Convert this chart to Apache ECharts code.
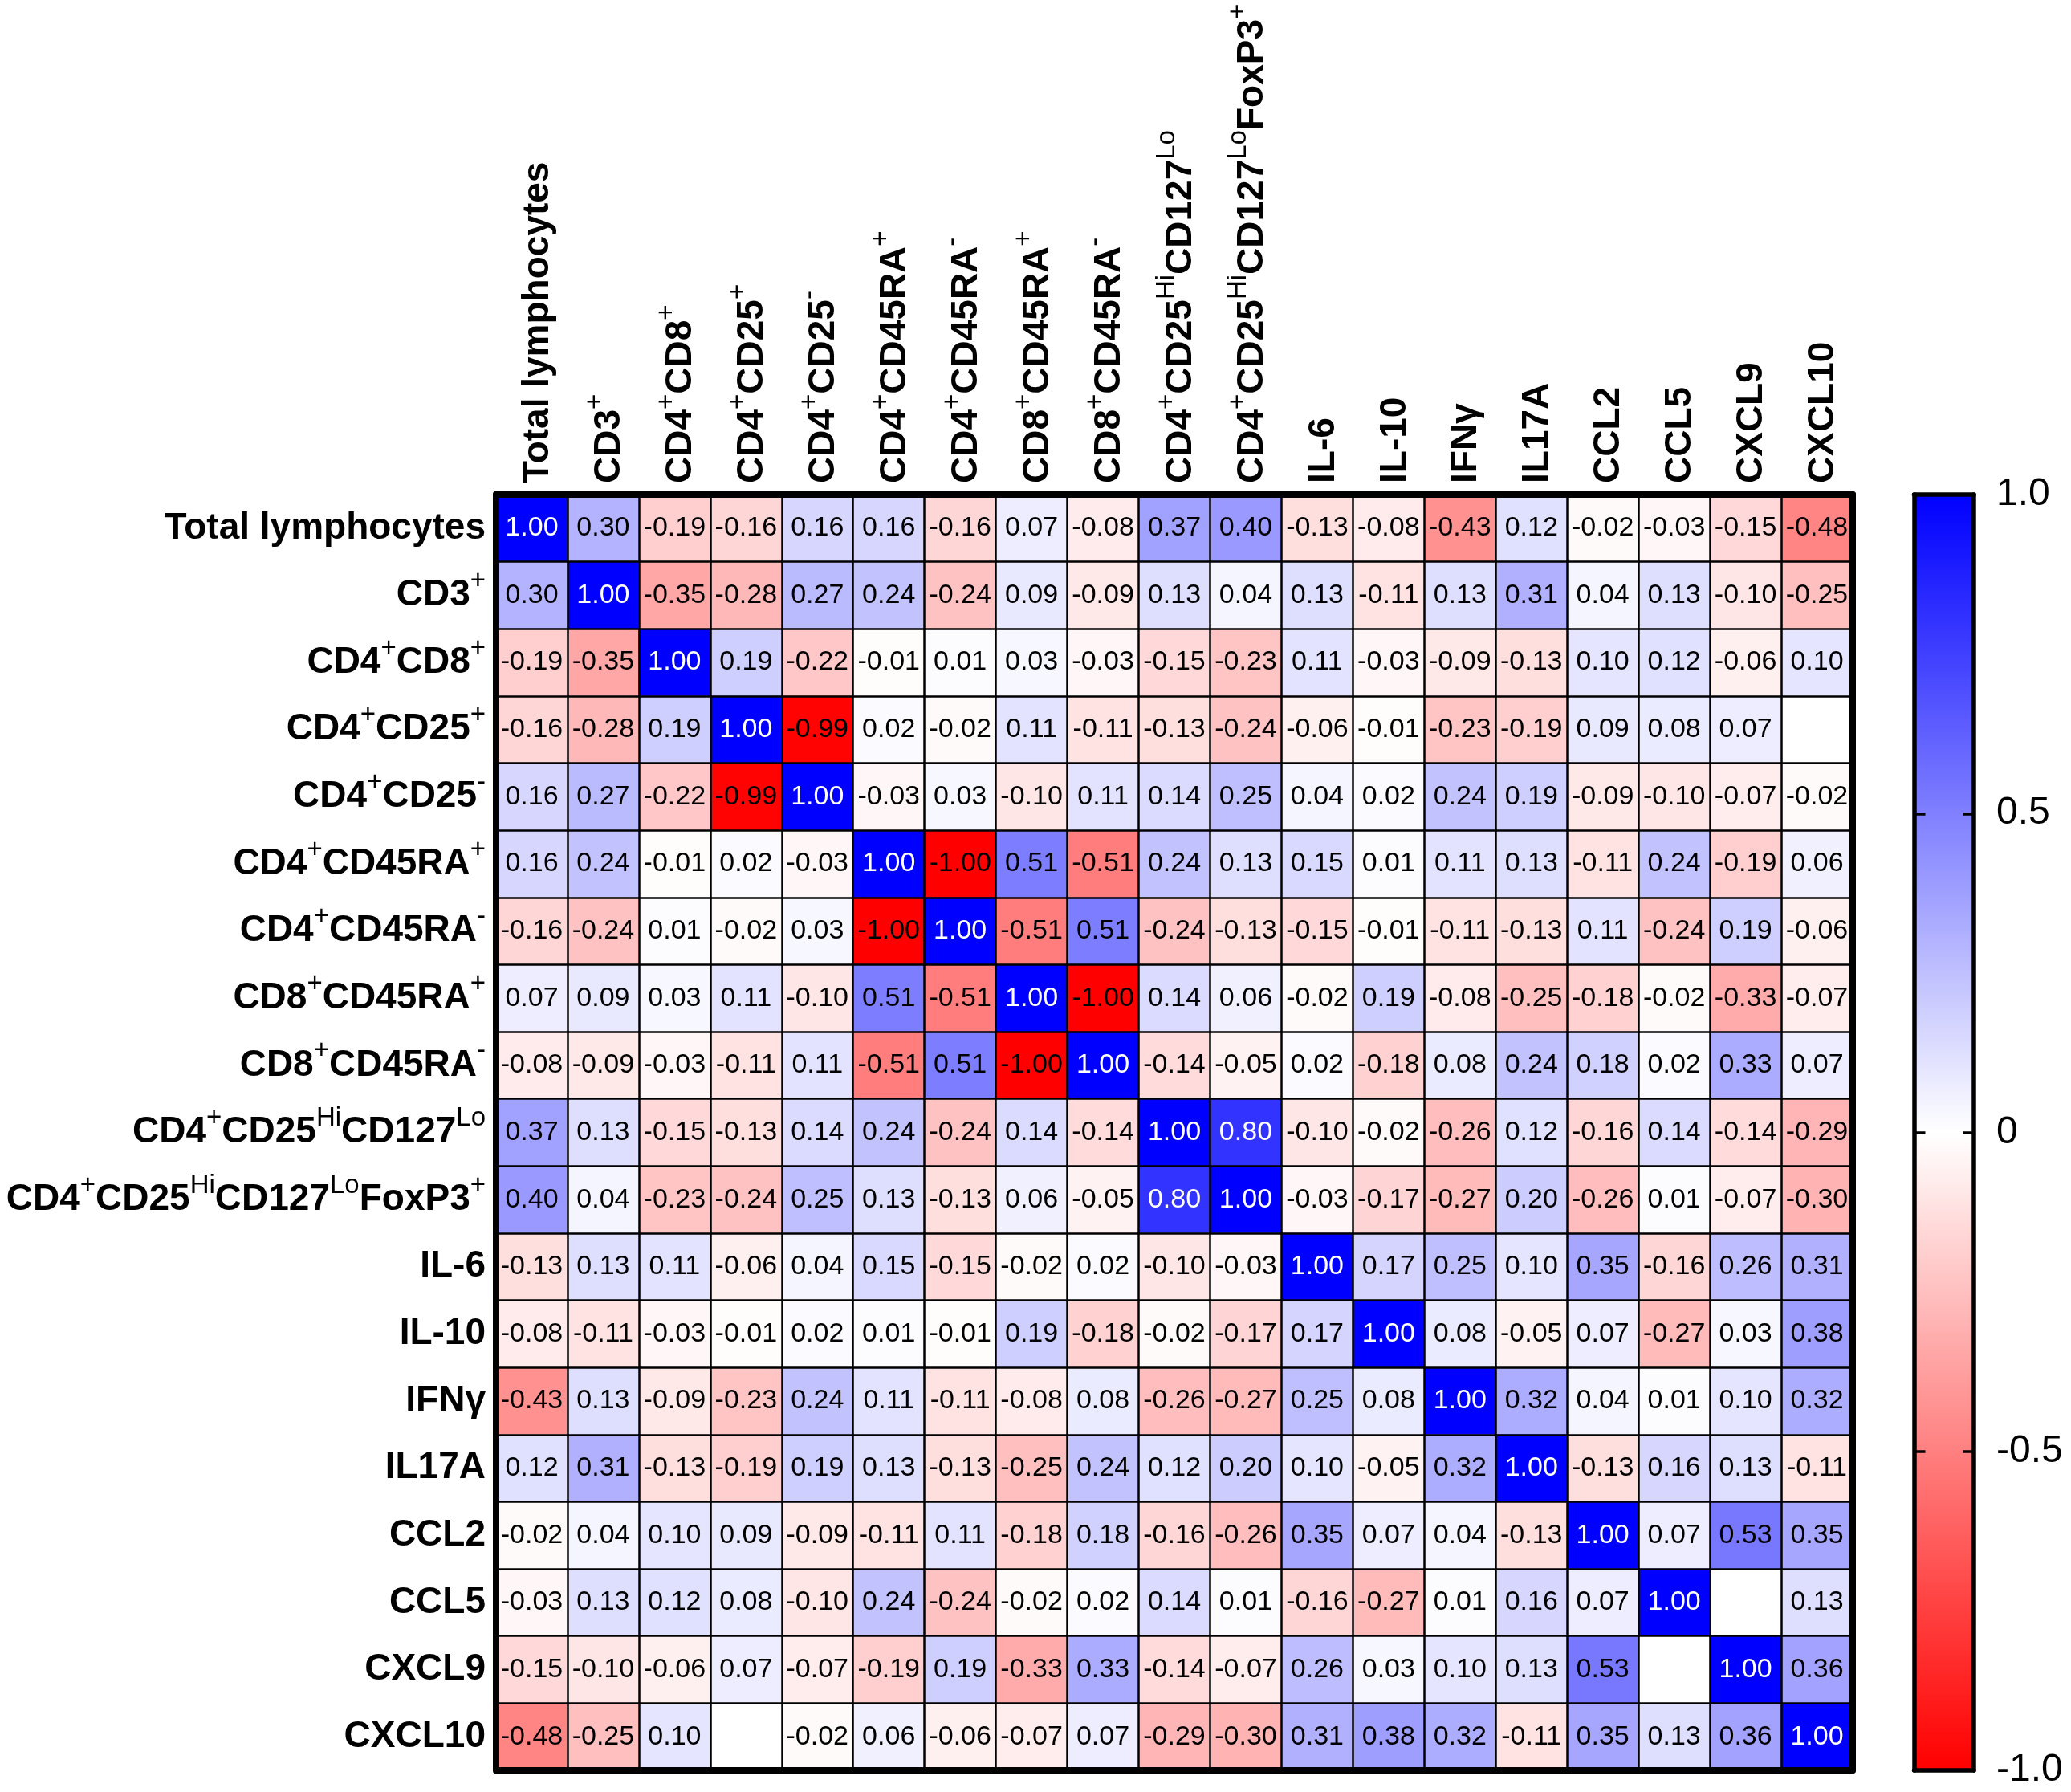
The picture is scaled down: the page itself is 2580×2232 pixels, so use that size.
<!DOCTYPE html>
<html>
<head>
<meta charset="utf-8">
<script src="https://cdn.jsdelivr.net/npm/echarts@6/dist/echarts.min.js"></script>
<style>
html,body{margin:0;padding:0;background:#fff;}
#chart{width:2580px;height:2232px;}
</style>
</head>
<body>
<div id="chart"></div>
<script>
// Category names; text inside {...} is a superscript
const categories = [
  'Total lymphocytes', 'CD3{+}', 'CD4{+}CD8{+}', 'CD4{+}CD25{+}', 'CD4{+}CD25{-}',
  'CD4{+}CD45RA{+}', 'CD4{+}CD45RA{-}', 'CD8{+}CD45RA{+}', 'CD8{+}CD45RA{-}',
  'CD4{+}CD25{Hi}CD127{Lo}', 'CD4{+}CD25{Hi}CD127{Lo}FoxP3{+}',
  'IL-6', 'IL-10', 'IFNγ', 'IL17A', 'CCL2', 'CCL5', 'CXCL9', 'CXCL10'
];

// Correlation rows (null = blank cell)
const rowTotalLymphocytes = [1.00, 0.30, -0.19, -0.16, 0.16, 0.16, -0.16, 0.07, -0.08, 0.37, 0.40, -0.13, -0.08, -0.43, 0.12, -0.02, -0.03, -0.15, -0.48];
const rowCD3 = [0.30, 1.00, -0.35, -0.28, 0.27, 0.24, -0.24, 0.09, -0.09, 0.13, 0.04, 0.13, -0.11, 0.13, 0.31, 0.04, 0.13, -0.10, -0.25];
const rowCD4CD8 = [-0.19, -0.35, 1.00, 0.19, -0.22, -0.01, 0.01, 0.03, -0.03, -0.15, -0.23, 0.11, -0.03, -0.09, -0.13, 0.10, 0.12, -0.06, 0.10];
const rowCD4CD25pos = [-0.16, -0.28, 0.19, 1.00, -0.99, 0.02, -0.02, 0.11, -0.11, -0.13, -0.24, -0.06, -0.01, -0.23, -0.19, 0.09, 0.08, 0.07, null];
const rowCD4CD25neg = [0.16, 0.27, -0.22, -0.99, 1.00, -0.03, 0.03, -0.10, 0.11, 0.14, 0.25, 0.04, 0.02, 0.24, 0.19, -0.09, -0.10, -0.07, -0.02];
const rowCD4CD45RApos = [0.16, 0.24, -0.01, 0.02, -0.03, 1.00, -1.00, 0.51, -0.51, 0.24, 0.13, 0.15, 0.01, 0.11, 0.13, -0.11, 0.24, -0.19, 0.06];
const rowCD4CD45RAneg = [-0.16, -0.24, 0.01, -0.02, 0.03, -1.00, 1.00, -0.51, 0.51, -0.24, -0.13, -0.15, -0.01, -0.11, -0.13, 0.11, -0.24, 0.19, -0.06];
const rowCD8CD45RApos = [0.07, 0.09, 0.03, 0.11, -0.10, 0.51, -0.51, 1.00, -1.00, 0.14, 0.06, -0.02, 0.19, -0.08, -0.25, -0.18, -0.02, -0.33, -0.07];
const rowCD8CD45RAneg = [-0.08, -0.09, -0.03, -0.11, 0.11, -0.51, 0.51, -1.00, 1.00, -0.14, -0.05, 0.02, -0.18, 0.08, 0.24, 0.18, 0.02, 0.33, 0.07];
const rowTreg = [0.37, 0.13, -0.15, -0.13, 0.14, 0.24, -0.24, 0.14, -0.14, 1.00, 0.80, -0.10, -0.02, -0.26, 0.12, -0.16, 0.14, -0.14, -0.29];
const rowTregFoxP3 = [0.40, 0.04, -0.23, -0.24, 0.25, 0.13, -0.13, 0.06, -0.05, 0.80, 1.00, -0.03, -0.17, -0.27, 0.20, -0.26, 0.01, -0.07, -0.30];
const rowIL6 = [-0.13, 0.13, 0.11, -0.06, 0.04, 0.15, -0.15, -0.02, 0.02, -0.10, -0.03, 1.00, 0.17, 0.25, 0.10, 0.35, -0.16, 0.26, 0.31];
const rowIL10 = [-0.08, -0.11, -0.03, -0.01, 0.02, 0.01, -0.01, 0.19, -0.18, -0.02, -0.17, 0.17, 1.00, 0.08, -0.05, 0.07, -0.27, 0.03, 0.38];
const rowIFNg = [-0.43, 0.13, -0.09, -0.23, 0.24, 0.11, -0.11, -0.08, 0.08, -0.26, -0.27, 0.25, 0.08, 1.00, 0.32, 0.04, 0.01, 0.10, 0.32];
const rowIL17A = [0.12, 0.31, -0.13, -0.19, 0.19, 0.13, -0.13, -0.25, 0.24, 0.12, 0.20, 0.10, -0.05, 0.32, 1.00, -0.13, 0.16, 0.13, -0.11];
const rowCCL2 = [-0.02, 0.04, 0.10, 0.09, -0.09, -0.11, 0.11, -0.18, 0.18, -0.16, -0.26, 0.35, 0.07, 0.04, -0.13, 1.00, 0.07, 0.53, 0.35];
const rowCCL5 = [-0.03, 0.13, 0.12, 0.08, -0.10, 0.24, -0.24, -0.02, 0.02, 0.14, 0.01, -0.16, -0.27, 0.01, 0.16, 0.07, 1.00, null, 0.13];
const rowCXCL9 = [-0.15, -0.10, -0.06, 0.07, -0.07, -0.19, 0.19, -0.33, 0.33, -0.14, -0.07, 0.26, 0.03, 0.10, 0.13, 0.53, null, 1.00, 0.36];
const rowCXCL10 = [-0.48, -0.25, 0.10, null, -0.02, 0.06, -0.06, -0.07, 0.07, -0.29, -0.30, 0.31, 0.38, 0.32, -0.11, 0.35, 0.13, 0.36, 1.00];

const rows = [rowTotalLymphocytes, rowCD3, rowCD4CD8, rowCD4CD25pos, rowCD4CD25neg,
  rowCD4CD45RApos, rowCD4CD45RAneg, rowCD8CD45RApos, rowCD8CD45RAneg, rowTreg, rowTregFoxP3,
  rowIL6, rowIL10, rowIFNg, rowIL17A, rowCCL2, rowCCL5, rowCXCL9, rowCXCL10];

// Colour bar
const colorMin = -1, colorMax = 1, colorStep = 0.5;
const colorStops = ['#FF0000', '#FFFFFF', '#0000FF'];

const FONT = 'Liberation Sans, Arial, Helvetica, sans-serif';

function toRich(s) {
  return ('{b|' + s.replace(/\{([^}]*)\}/g, '}{s|$1}{b|') + '}').replace(/\{b\|\}/g, '');
}
const richStyles = {
  b: {fontSize: 46, fontWeight: 'bold', lineHeight: 68, color: '#000', fontFamily: FONT},
  s: {fontSize: 33, fontWeight: 'normal', lineHeight: 33, verticalAlign: 'top', color: '#000', fontFamily: FONT}
};

const heatData = [];
rows.forEach((row, yi) => {
  row.forEach((v, xi) => {
    if (v === null) return;
    heatData.push({
      value: [xi, yi, v],
      label: {color: v >= 0.7 ? '#FFFFFF' : '#000000'}
    });
  });
});

const GRID_L = 618, GRID_T = 616, GRID_W = 1690, GRID_H = 1589;
const CB_L = 2384.5, CB_W = 74.5;

const lineBlack = (w) => ({show: true, onZero: false, lineStyle: {color: '#000', width: w}});

const option = {
  backgroundColor: '#fff',
  animation: false,
  grid: [
    {left: GRID_L, top: GRID_T, width: GRID_W, height: GRID_H, containLabel: false},
    {left: CB_L, top: GRID_T, width: CB_W, height: GRID_H, containLabel: false}
  ],
  xAxis: [
    {
      type: 'category', gridIndex: 0, position: 'top', data: categories, z: 10,
      axisLine: lineBlack(8), axisTick: {show: false},
      axisLabel: {show: true, interval: 0, rotate: -90, margin: 14, padding: [16, 0, 0, 0],
        formatter: (v) => toRich(v), rich: richStyles},
      splitLine: {show: true, interval: 0, lineStyle: {color: '#000', width: 2.5}}
    },
    {
      type: 'category', gridIndex: 0, position: 'bottom', data: categories, z: 10,
      axisLine: lineBlack(8), axisTick: {show: false}, axisLabel: {show: false}, splitLine: {show: false}
    },
    {
      type: 'value', gridIndex: 1, position: 'top', min: 0, max: 1, z: 10,
      axisLine: lineBlack(5.5), axisTick: {show: false}, axisLabel: {show: false}, splitLine: {show: false}
    },
    {
      type: 'value', gridIndex: 1, position: 'bottom', min: 0, max: 1, z: 10,
      axisLine: lineBlack(5.5), axisTick: {show: false}, axisLabel: {show: false}, splitLine: {show: false}
    }
  ],
  yAxis: [
    {
      type: 'category', gridIndex: 0, position: 'left', inverse: true, data: categories, z: 10,
      axisLine: lineBlack(8), axisTick: {show: false},
      axisLabel: {show: true, interval: 0, margin: 13, formatter: (v) => toRich(v), rich: richStyles},
      splitLine: {show: true, interval: 0, lineStyle: {color: '#000', width: 2.5}}
    },
    {
      type: 'category', gridIndex: 0, position: 'right', inverse: true, data: categories, z: 10,
      axisLine: lineBlack(8), axisTick: {show: false}, axisLabel: {show: false}, splitLine: {show: false}
    },
    {
      type: 'value', gridIndex: 1, position: 'left', min: colorMin, max: colorMax, interval: colorStep, z: 10,
      axisLine: lineBlack(5.5),
      axisTick: {show: true, inside: true, length: 14, lineStyle: {color: '#000', width: 3.5}},
      axisLabel: {show: false}, splitLine: {show: false}
    },
    {
      type: 'value', gridIndex: 1, position: 'right', min: colorMin, max: colorMax, interval: colorStep, z: 10,
      axisLine: lineBlack(5.5),
      axisTick: {show: true, inside: true, length: 14, lineStyle: {color: '#000', width: 3.5}},
      axisLabel: {show: true, margin: 28, fontSize: 48, color: '#000', fontFamily: FONT,
        formatter: (v) => (v === 0 ? '0' : v.toFixed(1))},
      splitLine: {show: false}
    }
  ],
  visualMap: {
    type: 'continuous', seriesIndex: 0, min: colorMin, max: colorMax,
    orient: 'vertical', calculable: false, show: true,
    left: CB_L, top: GRID_T, itemWidth: CB_W, itemHeight: GRID_H, padding: 0,
    inRange: {color: colorStops}, text: null, hoverLink: false, z: 4
  },
  series: [{
    type: 'heatmap', xAxisIndex: 0, yAxisIndex: 0, data: heatData,
    itemStyle: {borderColor: '#000', borderWidth: 0},
    label: {show: true, fontSize: 34, fontFamily: FONT, color: '#000',
      formatter: (p) => p.value[2].toFixed(2)},
    emphasis: {disabled: true}
  }]
};

const chart = echarts.init(document.getElementById('chart'), null, {renderer: 'canvas'});
chart.setOption(option);
</script>
</body>
</html>
